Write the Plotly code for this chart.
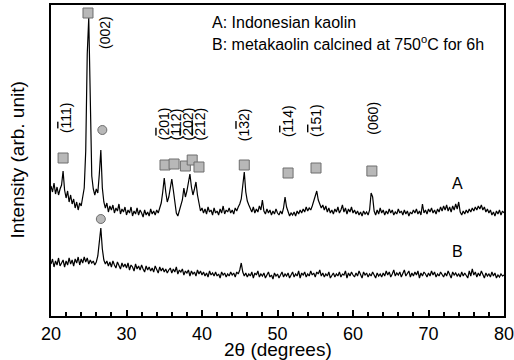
import numpy as np
import plotly.graph_objects as go

# 2-theta grid (degrees), 0.2 deg step
two_theta = np.round(np.arange(20.0, 80.0001, 0.2), 1)

# Curve A: Indonesian kaolin (arbitrary units, offset included)
intensity_A = [
    130, 124, 133, 122, 129, 121, 127, 131, 145, 126,
    118, 125, 114, 121, 112, 117, 108, 114, 106, 113,
    110, 118, 128, 165, 262, 298, 196, 140, 127, 121,
    127, 123, 142, 166, 128, 114, 108, 113, 104, 110,
    106, 111, 103, 108, 105, 112, 102, 107, 104, 109,
    101, 106, 103, 109, 100, 105, 102, 108, 101, 106,
    103, 99, 106, 101, 104, 100, 107, 102, 105, 101,
    106, 103, 108, 113, 124, 138, 124, 114, 119, 127,
    137, 126, 111, 103, 100, 105, 109, 116, 128, 119,
    125, 133, 142, 129, 121, 127, 134, 121, 111, 105,
    108, 103, 107, 102, 109, 104, 106, 101, 108, 103,
    105, 101, 107, 103, 110, 102, 106, 104, 108, 103,
    106, 102, 108, 105, 109, 112, 117, 128, 144, 124,
    115, 111, 108, 104, 109, 103, 107, 104, 110, 106,
    116, 105, 102, 107, 103, 106, 101, 105, 102, 107,
    103, 101, 105, 102, 108, 119, 109, 104, 100, 103,
    101, 104, 100, 105, 102, 106, 103, 107, 104, 109,
    105, 108, 106, 110, 115, 120, 125, 116, 112, 108,
    111, 106, 110, 104, 108, 103, 106, 102, 107, 104,
    109, 103, 106, 111, 104, 108, 102, 107, 104, 109,
    103, 106, 102, 105, 101, 104, 100, 105, 102, 104,
    101, 106, 123, 119, 105, 101, 106, 102, 108, 103,
    106, 101, 105, 102, 107, 103, 106, 101, 104, 102,
    107, 103, 105, 101, 106, 102, 105, 100, 104, 102,
    106, 103, 107, 102, 105, 101, 112, 103, 106, 102,
    107, 104, 108, 103, 106, 102, 107, 104, 109, 105,
    110, 106, 111, 105, 109, 104, 110, 106, 112, 107,
    114, 104, 101, 105, 102, 106, 103, 107, 104, 108,
    105, 109, 106, 110, 107, 111, 106, 109, 104, 107,
    103, 106, 101, 104, 100, 105, 102, 106, 101, 105,
    103,
]

# Curve B: metakaolin calcined at 750 C for 6h
intensity_B = [
    52, 57, 49, 55, 51, 58, 50, 54, 56, 49,
    55, 51, 58, 52, 56, 50, 57, 53, 59, 51,
    57, 53, 59, 54, 58, 52, 56, 53, 55, 51,
    54, 60, 76, 88, 67, 56, 52, 55, 50, 54,
    49, 55, 51, 48, 54, 50, 47, 53, 49, 52,
    48, 53, 46, 51, 49, 45, 52, 47, 50, 46,
    51, 47, 44, 50, 46, 49, 45, 48, 44, 50,
    46, 43, 49, 45, 48, 44, 47, 43, 46, 48,
    43, 47, 44, 49, 42, 46, 44, 47, 41, 45,
    43, 46, 40, 45, 42, 44, 40, 46, 42, 45,
    41, 44, 40, 43, 39, 45, 41, 43, 40, 44,
    40, 42, 38, 44, 41, 43, 39, 42, 40, 44,
    41, 43, 39, 44, 42, 46, 53, 44, 40, 43,
    39, 42, 40, 44, 38, 43, 41, 45, 39, 42,
    40, 43, 38, 42, 44, 39, 41, 37, 43, 40,
    42, 38, 41, 44, 39, 42, 40, 43, 38, 41,
    44, 39, 42, 40, 45, 38, 43, 41, 44, 39,
    42, 40, 45, 41, 43, 39, 44, 42, 46, 40,
    43, 39, 42, 40, 44, 38, 41, 43, 39, 42,
    40, 44, 39, 42, 41, 45, 38, 43, 40, 44,
    41, 39, 43, 40, 45, 42, 38, 44, 41, 43,
    39, 42, 40, 44, 41, 38, 43, 40, 42, 39,
    43, 40, 45, 41, 44, 39, 42, 46, 40, 43,
    41, 44, 39, 43, 46, 40, 42, 45, 39, 43,
    40, 44, 41, 45, 38, 43, 40, 44, 42, 39,
    43, 40, 45, 41, 44, 39, 42, 40, 44, 41,
    39, 43, 40, 45, 42, 38, 44, 41, 43, 40,
    42, 39, 44, 40, 43, 41, 38, 45, 40, 47,
    41, 44, 39, 43, 40, 45, 42, 38, 43, 40,
    42, 39, 44, 40, 43, 38, 41, 39, 42, 40,
    41,
]

# Kaolinite reflection markers (squares) and quartz markers (circles)
square_x = [21.6, 24.9, 35.1, 36.3, 37.8, 38.7, 39.6, 45.6, 51.4, 55.1, 62.5]
square_y = [158, 303, 151, 152, 150, 156, 149, 151, 143, 148, 145]
circle_x = [26.8, 26.6]
circle_y = [186, 97]

# Miller index labels (overlined digits = negative indices)
OV = '<span style="text-decoration:overline">{}</span>'
hkl_labels = ["(" + OV.format("1") + "11)", "(002)", "(" + OV.format("2") + "01)",
              "(112)", "(" + OV.format("2") + "02)",
              "(" + OV.format("2") + OV.format("1") + "2)",
              "(1" + OV.format("3") + "2)", "(" + OV.format("1") + "14)",
              "(" + OV.format("1") + "51)", "(060)"]
hkl_x = [22.0, 27.15, 35.0, 36.6, 38.2, 39.8, 45.6, 51.4, 55.1, 62.6]
hkl_y = [198, 284, 192, 192, 192, 192, 191, 195, 195, 198]

FONT = "Liberation Sans, Arial, sans-serif"

fig = go.Figure()
fig.add_trace(go.Scatter(x=two_theta, y=intensity_A, mode="lines",
                         line=dict(color="black", width=1.2), showlegend=False))
fig.add_trace(go.Scatter(x=two_theta, y=intensity_B, mode="lines",
                         line=dict(color="black", width=1.2), showlegend=False))
fig.add_trace(go.Scatter(x=square_x, y=square_y, mode="markers", cliponaxis=False,
                         marker=dict(symbol="square", size=10, color="#b8b8b8",
                                     line=dict(color="#6e6e6e", width=1)),
                         showlegend=False))
fig.add_trace(go.Scatter(x=circle_x, y=circle_y, mode="markers", cliponaxis=False,
                         marker=dict(symbol="circle", size=9, color="#b8b8b8",
                                     line=dict(color="#6e6e6e", width=1)),
                         showlegend=False))

annotations = []
for lab, xx, yy in zip(hkl_labels, hkl_x, hkl_y):
    annotations.append(dict(x=xx, y=yy, text=lab, textangle=-90, showarrow=False,
                            font=dict(family=FONT, size=14, color="black"),
                            xanchor="center", yanchor="middle"))

annotations += [
    dict(x=41.0, y=294, text="A: Indonesian kaolin", showarrow=False, xanchor="left",
         yanchor="middle", font=dict(family=FONT, size=16, color="black")),
    dict(x=41.0, y=273, text="B: metakaolin calcined at 750<sup>o</sup>C for 6h",
         showarrow=False, xanchor="left", yanchor="middle",
         font=dict(family=FONT, size=16, color="black")),
    dict(x=73.8, y=133, text="A", showarrow=False, xanchor="center", yanchor="middle",
         font=dict(family=FONT, size=16, color="black")),
    dict(x=73.8, y=65, text="B", showarrow=False, xanchor="center", yanchor="middle",
         font=dict(family=FONT, size=16, color="black")),
    dict(x=0.5, y=0, xref="paper", yref="paper", yshift=-33, text="2\u03b8 (degrees)",
         showarrow=False, xanchor="center", yanchor="middle",
         font=dict(family=FONT, size=19, color="black")),
    dict(x=-0.075, y=0.5, xref="paper", yref="paper", text="Intensity (arb. unit)",
         textangle=-90, showarrow=False, xanchor="center", yanchor="middle",
         font=dict(family=FONT, size=19, color="black")),
]

fig.update_layout(
    width=514, height=360,
    margin=dict(l=51, r=10, t=5, b=44, autoexpand=False),
    paper_bgcolor="white", plot_bgcolor="white",
    annotations=annotations,
    xaxis=dict(range=[20, 80], tick0=20, dtick=10, ticks="inside", ticklen=6,
               tickwidth=1.5, tickcolor="black", showline=True, linecolor="black",
               linewidth=2, mirror=True, showgrid=False, zeroline=False,
               ticklabeloverflow="allow", automargin=False,
               tickfont=dict(family=FONT, size=18, color="black"),
               minor=dict(dtick=2, ticks="inside", ticklen=4, tickcolor="black",
                          tickwidth=1.5, showgrid=False)),
    yaxis=dict(range=[0, 311], showticklabels=False, ticks="", showline=True,
               linecolor="black", linewidth=2, mirror=True, showgrid=False,
               zeroline=False, automargin=False),
)

fig.write_html("out.html")
